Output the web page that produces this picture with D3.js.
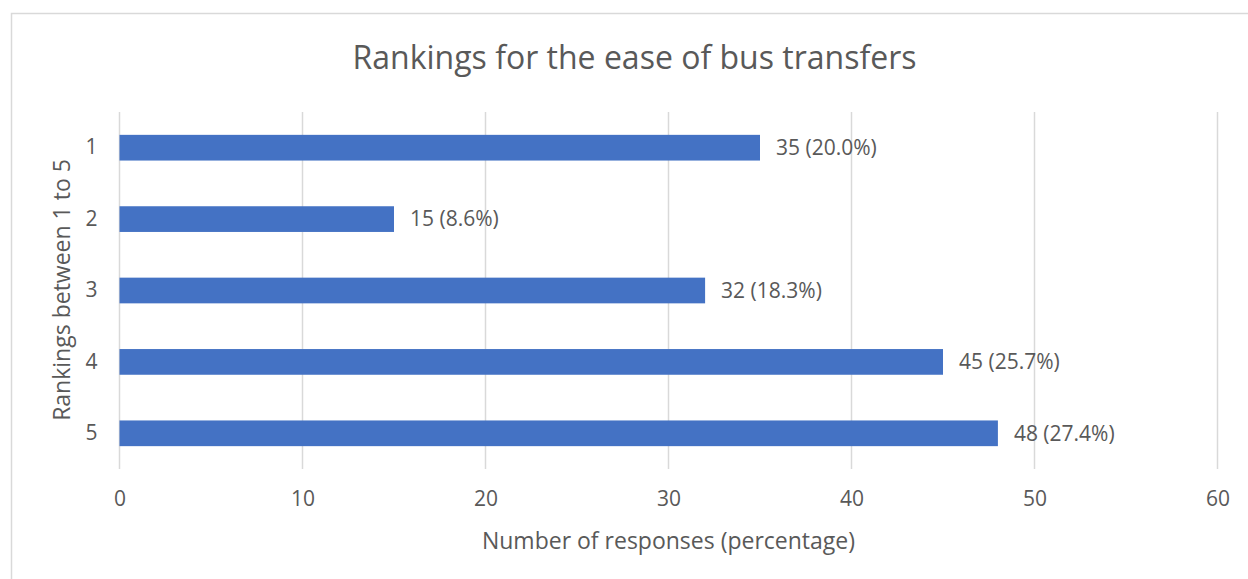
<!DOCTYPE html>
<html>
    <head>
        <meta charset="utf-8" />
        <script src="https://d3js.org/d3.v7.min.js"></script>
        <style>
            body { margin: 0; background: #fff; }
            text { font-family: 'Open Sans', sans-serif; fill: #595959; }
        </style>
    </head>
    <body>
        <svg width="1248" height="579"></svg>
        <script>
            const rankings = ['1', '2', '3', '4', '5']
            const responses = [35, 15, 32, 45, 48]
            const percentages = ['20.0%', '8.6%', '18.3%', '25.7%', '27.4%']
            const xTicks = [0, 10, 20, 30, 40, 50, 60]

            const svg = d3.select('svg')

            // chart frame: only top and left edges show inside the picture
            svg.append('rect')
                .attr('x', 11.5)
                .attr('y', 13.5)
                .attr('width', 1247)
                .attr('height', 580)
                .style('fill', 'none')
                .style('stroke', '#d9d9d9')
                .style('stroke-width', '1.5px')

            const x = d3.scaleLinear().domain([0, 60]).range([119.5, 1217.5])
            const y = d3.scaleBand()
                .domain(rankings)
                .range([112, 469])
                .paddingInner(0.64)
                .paddingOuter(0.32)

            // gridlines
            svg.append('g')
                .selectAll('line')
                .data(xTicks)
                .enter()
                .append('line')
                .attr('x1', (d) => x(d))
                .attr('x2', (d) => x(d))
                .attr('y1', 112)
                .attr('y2', 469)
                .style('stroke', '#d9d9d9')
                .style('stroke-width', '1.5px')

            const xAxis = svg.append('g')
                .attr('transform', 'translate(0,469)')
                .call(d3.axisBottom(x).tickValues(xTicks).tickSize(0).tickPadding(22))
            xAxis.select('.domain').remove()
            xAxis.selectAll('text')
                .style('font-size', '21px')
                .style('fill', '#595959')

            const yAxis = svg.append('g')
                .attr('transform', 'translate(119.5,0)')
                .call(d3.axisLeft(y).tickSize(0).tickPadding(22))
            yAxis.select('.domain').remove()
            yAxis.selectAll('text')
                .style('font-size', '21px')
                .style('fill', '#595959')

            const rows = rankings.map((r, i) => ({ r: r, v: responses[i], p: percentages[i] }))

            svg.append('g')
                .selectAll('rect')
                .data(rows)
                .enter()
                .append('rect')
                .attr('x', x(0))
                .attr('y', (d) => y(d.r))
                .attr('width', (d) => x(d.v) - x(0))
                .attr('height', y.bandwidth())
                .style('fill', '#4472c4')

            svg.append('g')
                .selectAll('text')
                .data(rows)
                .enter()
                .append('text')
                .attr('x', (d) => x(d.v) + 16)
                .attr('y', (d) => y(d.r) + y.bandwidth() / 2)
                .attr('dy', '0.35em')
                .style('font-size', '21px')
                .text((d) => d.v + ' (' + d.p + ')')

            svg.append('text')
                .attr('x', 634.5)
                .attr('y', 69)
                .attr('text-anchor', 'middle')
                .style('font-size', '32px')
                .text('Rankings for the ease of bus transfers')

            svg.append('text')
                .attr('x', 668.5)
                .attr('y', 549)
                .attr('text-anchor', 'middle')
                .style('font-size', '23px')
                .text('Number of responses (percentage)')

            svg.append('text')
                .attr('transform', 'translate(70,290) rotate(-90)')
                .attr('text-anchor', 'middle')
                .style('font-size', '23px')
                .text('Rankings between 1 to 5')
        </script>
    </body>
</html>
